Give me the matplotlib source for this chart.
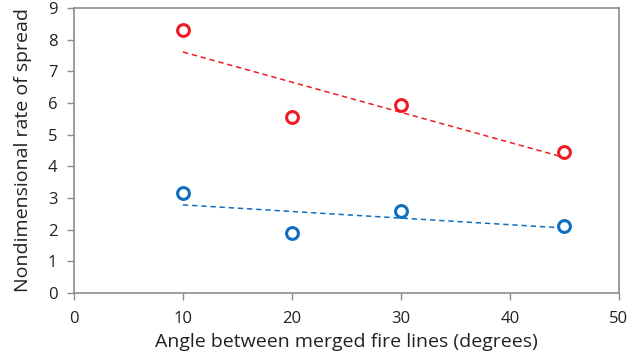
import numpy as np
import matplotlib.pyplot as plt

# data
angles = [10, 20, 30, 45]
upper_rate = [8.29, 5.57, 5.93, 4.46]
lower_rate = [3.17, 1.90, 2.58, 2.12]

red = "#ED1C24"
blue = "#0F6FBF"

plt.rcParams['font.family'] = ['Open Sans', 'DejaVu Sans']

fig = plt.figure(figsize=(6.27, 3.63), dpi=100)
ax = fig.add_axes([0.118, 0.193, 0.869, 0.785])

for ys, col in [(upper_rate, red), (lower_rate, blue)]:
    # linear trend line, like the spreadsheet
    k, b = np.polyfit(angles, ys, 1)
    xs = np.array([angles[0], angles[-1]])
    ax.plot(xs, k * xs + b, ls=(0, (3.5, 2.5)), color=col, lw=1.1)
    ax.plot(angles, ys, 'o', mfc='white', mec=col, mew=2.2, ms=8.5, ls='none')

ax.set_xlim(0, 50)
ax.set_ylim(0, 9)
ax.set_xticks(range(0, 51, 10))
ax.set_yticks(range(0, 10))

for s in ax.spines.values():
    s.set_color('#8c8c8c')
    s.set_linewidth(1.2)
ax.tick_params(colors='#8c8c8c', length=5, width=1, labelcolor='#222222', labelsize=12)
ax.tick_params(axis='x', pad=8)
ax.tick_params(axis='y', pad=7)

ax.set_xlabel("Angle between merged fire lines (degrees)", fontsize=14, color='#222222', labelpad=4)
ax.set_ylabel("Nondimensional rate of spread", fontsize=14, color='#222222', labelpad=11)

fig.savefig("out.png", dpi=100)
